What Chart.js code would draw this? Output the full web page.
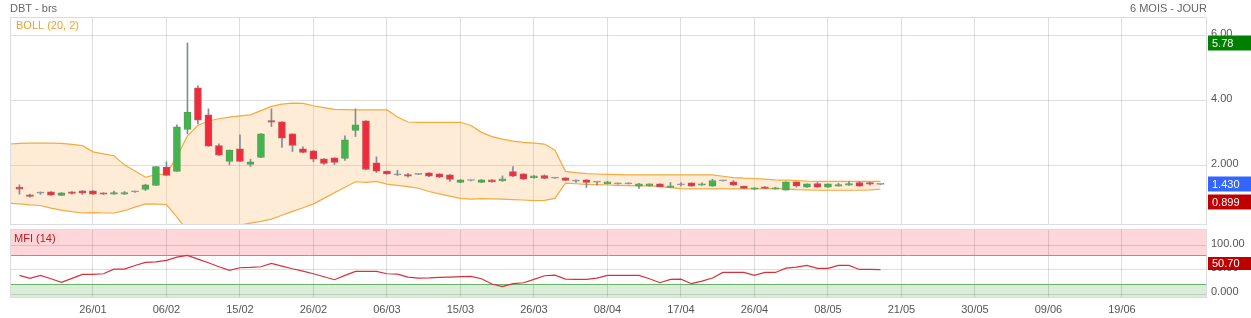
<!DOCTYPE html>
<html>
<head>
<meta charset="utf-8">
<title>DBT - brs</title>
<script src="https://cdn.jsdelivr.net/npm/chart.js"></script>
<style>
  html, body { margin: 0; padding: 0; background: #fff; }
  #wrap { position: relative; width: 1251px; height: 318px; }
  #priceChart { position: absolute; left: 0; top: 0; }
  #mfiChart { position: absolute; left: 0; top: 226px; }
</style>
</head>
<body>
<div id="wrap">
  <canvas id="priceChart" width="1251" height="229"></canvas>
  <canvas id="mfiChart" width="1251" height="92"></canvas>
</div>
<script>
// daily candles, index 0 = first session shown
const opens  = [1.344,1.108,1.16,1.20,1.087,1.20,1.231,1.231,1.169,1.128,1.128,1.20,1.272,1.395,1.959,1.826,3.118,4.40,3.569,2.626,
                2.133,2.523,2.041,2.256,3.395,3.354,2.985,2.523,2.462,2.215,2.246,2.226,3.087,3.385,2.092,1.83,1.72,1.73,1.74,1.785,
                1.754,1.72,1.487,1.55,1.487,1.569,1.538,1.826,1.754,1.631,1.703,1.62,1.631,1.528,1.569,1.497,1.446,1.446,1.446,1.374,
                1.385,1.446,1.333,1.415,1.477,1.405,1.374,1.538,1.508,1.374,1.282,1.354,1.282,1.251,1.508,1.344,1.456,1.344,1.374,1.405,
                1.487,1.487,1.43];
const closes = [1.282,1.056,1.16,1.097,1.169,1.149,1.159,1.128,1.128,1.18,1.18,1.20,1.415,1.979,1.703,3.20,3.651,3.405,2.605,2.328,
                2.482,2.133,2.123,2.985,3.344,2.851,2.626,2.41,2.205,2.072,2.103,2.80,3.262,1.887,1.836,1.75,1.72,1.68,1.74,1.68,
                1.65,1.58,1.569,1.55,1.569,1.508,1.60,1.682,1.59,1.692,1.61,1.62,1.549,1.528,1.487,1.497,1.508,1.446,1.446,1.446,
                1.446,1.354,1.385,1.415,1.374,1.446,1.549,1.538,1.405,1.303,1.323,1.303,1.323,1.508,1.385,1.446,1.344,1.446,1.426,1.456,
                1.374,1.436,1.43];
const highs  = [1.415,1.13,1.20,1.21,1.18,1.21,1.24,1.24,1.17,1.22,1.21,1.22,1.436,1.98,2.123,3.26,5.78,4.46,3.754,2.677,
                2.49,2.954,2.205,2.99,3.754,3.36,2.99,2.585,2.47,2.22,2.25,2.923,3.754,3.39,2.277,1.85,1.86,1.77,1.75,1.79,
                1.76,1.73,1.58,1.56,1.58,1.575,1.69,1.979,1.76,1.70,1.723,1.63,1.64,1.569,1.575,1.51,1.52,1.47,1.48,1.46,
                1.45,1.45,1.487,1.487,1.48,1.477,1.59,1.54,1.549,1.38,1.33,1.36,1.344,1.51,1.51,1.45,1.487,1.45,1.467,1.518,
                1.518,1.49,1.44];
const lows   = [1.128,1.04,1.12,1.09,1.08,1.13,1.12,1.12,1.12,1.12,1.12,1.18,1.241,1.395,1.70,1.826,2.985,3.29,2.60,2.32,
                2.03,2.13,1.98,2.25,3.21,2.564,2.441,2.40,2.133,2.041,2.04,2.164,2.903,1.88,1.795,1.74,1.70,1.65,1.73,1.67,
                1.64,1.52,1.48,1.54,1.48,1.50,1.52,1.67,1.58,1.62,1.60,1.61,1.54,1.487,1.333,1.405,1.44,1.44,1.44,1.303,
                1.37,1.35,1.33,1.385,1.37,1.40,1.37,1.53,1.40,1.30,1.262,1.30,1.28,1.25,1.344,1.34,1.34,1.34,1.37,1.40,
                1.37,1.405,1.42];

// Bollinger (20, 2), first value sits one session before the first candle
const bollStart = -1;
const bollUpper = [2.67,2.69,2.70,2.70,2.70,2.69,2.66,2.62,2.43,2.37,2.31,2.03,1.84,1.65,1.73,1.75,2.29,2.92,3.25,3.38,
                   3.45,3.50,3.54,3.57,3.70,3.83,3.90,3.93,3.92,3.85,3.79,3.74,3.73,3.72,3.72,3.72,3.72,3.50,3.35,3.34,
                   3.34,3.34,3.34,3.34,3.24,3.03,2.90,2.82,2.76,2.72,2.70,2.67,2.48,1.83,1.79,1.76,1.75,1.74,1.73,1.72,
                   1.72,1.72,1.72,1.72,1.72,1.72,1.72,1.72,1.68,1.64,1.62,1.61,1.59,1.57,1.56,1.55,1.53,1.52,1.52,1.52,
                   1.52,1.52,1.52,1.52];
const bollLower = [0.85,0.83,0.80,0.78,0.70,0.64,0.59,0.55,0.56,0.55,0.55,0.62,0.73,0.83,0.82,0.81,0.42,0.00,-0.05,-0.05,
                   0.02,0.10,0.18,0.24,0.29,0.36,0.48,0.60,0.71,0.83,1.00,1.17,1.34,1.51,1.49,1.52,1.44,1.40,1.36,1.31,
                   1.21,1.14,1.07,1.00,0.975,0.99,0.985,0.975,0.96,0.95,0.93,0.94,1.00,1.47,1.45,1.43,1.42,1.41,1.40,1.39,
                   1.385,1.38,1.36,1.33,1.30,1.29,1.29,1.29,1.29,1.29,1.29,1.29,1.30,1.30,1.29,1.27,1.26,1.25,1.25,1.25,
                   1.25,1.25,1.26,1.28];

// MFI (14)
const mfi = [38.6,32.4,38.6,31.7,24.1,32.4,40.7,40.7,42.1,51.7,51.7,59.3,65.5,66.9,69.7,76.6,80.0,72.4,64.8,56.6,
             49.0,54.5,55.2,56.6,63.4,57.9,52.4,47.6,42.1,35.9,29.7,38.6,46.9,46.9,46.9,42.1,41.4,35.2,33.1,33.4,
             34.5,35.2,36.2,36.6,31.7,20.7,15.2,21.4,23.4,30.3,37.9,39.3,31.0,30.3,30.3,33.1,38.6,38.6,38.6,38.6,
             31.7,23.4,30.3,31.0,21.4,26.9,33.1,44.8,44.8,44.8,38.6,44.8,44.8,53.8,55.9,59.3,53.1,53.1,59.3,59.3,
             51.0,51.0,50.7];
const mfiHigh = 80, mfiLow = 20;

const dateLabels = ['26/01','06/02','15/02','26/02','06/03','15/03','26/03','08/04','17/04','26/04','08/05','21/05','30/05','09/06','19/06'];
const dateTickIdx = [7,14,21,28,35,42,49,56,63,70,77,84,91,98,105];
const priceTicks = [2,4,6];
const priceTickLabels = ['2.000','4.00','6.00'];
const mfiTicks = [0,50,100];
const mfiTickLabels = ['0.000','50.00','100.00'];
const priceMarks = [5.78, 1.430, 0.899];
const priceMarkLabels = ['5.78','1.430','0.899'];
const mfiMark = 50.70;

const FONT = "'Liberation Sans', Arial, sans-serif";
Chart.defaults.font.family = FONT;
Chart.defaults.font.size = 11;
Chart.defaults.color = '#555';

const gridColor = 'rgba(0,0,0,0.13)';
const up = '#43b34b', upBorder = '#4f9f56';
const down = '#ef2b3b', downBorder = '#c9505b';
const flat = '#8893a0';

function xScale(showLabels) {
  return {
    type: 'linear', min: -0.9, max: 113.1, offset: false,
    grid: { color: gridColor, drawTicks: false, offset: false },
    border: { display: false },
    ticks: {
      display: showLabels, padding: 5, color: '#555',
      callback: v => dateLabels[dateTickIdx.indexOf(v)] || ''
    },
    afterBuildTicks: s => { s.ticks = dateTickIdx.map(v => ({ value: v })); },
    afterFit: s => { s.height = showLabels ? 20 : 0; s.paddingLeft = 0; s.paddingRight = 0; }
  };
}

function yScale(min, max, ticks, labels) {
  return {
    position: 'right', min: min, max: max,
    grid: { color: gridColor, drawTicks: false },
    border: { display: false },
    ticks: { padding: 4, labelOffset: -2, color: '#555',
             callback: v => labels[ticks.indexOf(v)] },
    afterBuildTicks: s => { s.ticks = ticks.map(v => ({ value: v })); },
    afterFit: s => { s.width = 44; s.paddingTop = 0; s.paddingBottom = 0; }
  };
}

const frame = {
  id: 'frame',
  afterDraw(chart) {
    const a = chart.chartArea, ctx = chart.ctx;
    ctx.save();
    ctx.strokeStyle = '#dcdcdc';
    ctx.lineWidth = 1;
    ctx.strokeRect(a.left + 0.5, a.top + 0.5, a.right - a.left - 1, a.bottom - a.top - 1);
    ctx.restore();
  }
};

function box(ctx, x, y, h, color, text) {
  ctx.fillStyle = color;
  ctx.fillRect(x, y, 44, h);
  ctx.fillStyle = '#fff';
  ctx.font = '11px ' + FONT;
  ctx.textBaseline = 'middle';
  ctx.textAlign = 'left';
  ctx.fillText(text, x + 4, y + h / 2 + 0.5);
}

const whiteBg = {
  id: 'whiteBg',
  beforeDraw(chart) {
    chart.ctx.save();
    chart.ctx.fillStyle = '#fff';
    chart.ctx.fillRect(0, 0, chart.width, chart.height);
    chart.ctx.restore();
  }
};

const priceDecor = {
  id: 'priceDecor',
  afterDraw(chart) {
    const ctx = chart.ctx, a = chart.chartArea, ys = chart.scales.y;
    ctx.save();
    ctx.font = '11px ' + FONT;
    ctx.textBaseline = 'middle';
    ctx.fillStyle = '#666';
    ctx.textAlign = 'left';
    ctx.fillText('DBT - brs', 10, 9);
    ctx.textAlign = 'right';
    ctx.fillText('6 MOIS - JOUR', a.right, 9);
    ctx.textAlign = 'left';
    ctx.fillStyle = '#f0a030';
    ctx.fillText('BOLL (20, 2)', 16, 26);
    const colors = ['#008000', '#3366ff', '#c00000'];
    priceMarks.forEach((v, k) => {
      box(ctx, a.right + 1, Math.round(ys.getPixelForValue(v)) - 7.5, 15, colors[k], priceMarkLabels[k]);
    });
    ctx.restore();
  }
};

const mfiDecor = {
  id: 'mfiDecor',
  beforeDraw(chart) {
    const ctx = chart.ctx, a = chart.chartArea, ys = chart.scales.y;
    const yHi = ys.getPixelForValue(mfiHigh), yLo = ys.getPixelForValue(mfiLow);
    ctx.save();
    ctx.fillStyle = '#fff';
    ctx.fillRect(0, 0, chart.width, chart.height);
    ctx.fillStyle = '#ffd7da';
    ctx.fillRect(a.left, a.top, a.right - a.left, yHi - a.top);
    ctx.fillStyle = '#d9edd9';
    ctx.fillRect(a.left, yLo, a.right - a.left, a.bottom - yLo);
    ctx.restore();
  },
  beforeDatasetsDraw(chart) {
    const ctx = chart.ctx, a = chart.chartArea, ys = chart.scales.y;
    const yHi = Math.round(ys.getPixelForValue(mfiHigh)) + 0.5, yLo = Math.round(ys.getPixelForValue(mfiLow)) + 0.5;
    ctx.save();
    ctx.lineWidth = 1;
    ctx.strokeStyle = '#e87474';
    ctx.beginPath(); ctx.moveTo(a.left, yHi); ctx.lineTo(a.right, yHi); ctx.stroke();
    ctx.strokeStyle = '#66b266';
    ctx.beginPath(); ctx.moveTo(a.left, yLo); ctx.lineTo(a.right, yLo); ctx.stroke();
    ctx.restore();
  },
  afterDraw(chart) {
    const ctx = chart.ctx, a = chart.chartArea, ys = chart.scales.y;
    ctx.save();
    ctx.font = '11px ' + FONT;
    ctx.textBaseline = 'middle';
    ctx.textAlign = 'left';
    ctx.fillStyle = '#cc1414';
    ctx.fillText('MFI (14)', 14, 12.5);
    const p = Math.round(ys.getPixelForValue(mfiMark));
    box(ctx, a.right + 1, p - 13, 13, '#c00000', mfiMark.toFixed(2));
    ctx.restore();
  }
};

const candleColor = i => closes[i] > opens[i] ? up : (closes[i] < opens[i] ? down : flat);
const candleBorder = i => closes[i] > opens[i] ? upBorder : (closes[i] < opens[i] ? downBorder : flat);

new Chart(document.getElementById('priceChart'), {
  type: 'bar',
  data: {
    datasets: [
      {
        label: 'body',
        data: opens.map((o, i) => ({ x: i, y: [o, closes[i]] })),
        backgroundColor: c => candleColor(c.dataIndex),
        borderColor: c => candleBorder(c.dataIndex),
        borderWidth: 1, borderSkipped: false,
        barThickness: 7, minBarLength: 1, grouped: false, order: 0
      },
      {
        label: 'wick',
        data: lows.map((l, i) => ({ x: i, y: [l, highs[i]] })),
        backgroundColor: '#7f8c99',
        borderWidth: 0, barThickness: 1, grouped: false, order: 1
      },
      {
        type: 'line', label: 'upper',
        data: bollUpper.map((v, k) => ({ x: k + bollStart, y: v })),
        borderColor: '#f6a93b', borderWidth: 1.2, pointRadius: 0,
        backgroundColor: 'rgba(250,180,90,0.25)', fill: '+1', order: 2
      },
      {
        type: 'line', label: 'lower',
        data: bollLower.map((v, k) => ({ x: k + bollStart, y: v })),
        borderColor: '#f6a93b', borderWidth: 1.2, pointRadius: 0,
        fill: false, order: 3
      }
    ]
  },
  options: {
    responsive: false, animation: false,
    layout: { padding: { left: 10, top: 17, right: 0, bottom: 4 } },
    plugins: { legend: { display: false }, tooltip: { enabled: false } },
    scales: {
      x: xScale(false),
      y: yScale(0.18, 6.58, priceTicks, priceTickLabels)
    }
  },
  plugins: [whiteBg, frame, priceDecor]
});

new Chart(document.getElementById('mfiChart'), {
  type: 'line',
  data: {
    datasets: [{
      label: 'MFI',
      data: mfi.map((v, i) => ({ x: i, y: v })),
      borderColor: '#d8313a', borderWidth: 1.2, pointRadius: 0, fill: false
    }]
  },
  options: {
    responsive: false, animation: false,
    layout: { padding: { left: 10, top: 3, right: 0, bottom: 0 } },
    plugins: { legend: { display: false }, tooltip: { enabled: false } },
    scales: {
      x: xScale(true),
      y: yScale(-8.3, 135, mfiTicks, mfiTickLabels)
    }
  },
  plugins: [mfiDecor, frame]
});
</script>
</body>
</html>
